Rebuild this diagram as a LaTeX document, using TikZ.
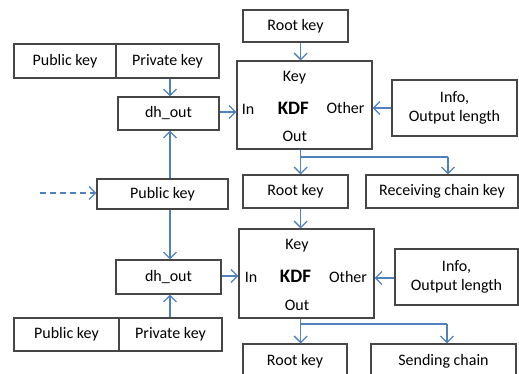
\documentclass[tikz,border=0pt]{standalone}
\usepackage{fontspec}
\setmainfont{Carlito}
\usetikzlibrary{arrows.meta,calc}
\definecolor{arrblue}{RGB}{79,129,189}
\definecolor{boxgray}{RGB}{70,70,70}
\tikzset{
  box/.style={draw=boxgray, line width=1.1pt, inner sep=0pt, anchor=center, font=\fontsize{16}{19}\selectfont, align=center},
  lbl/.style={inner sep=0pt, anchor=center, font=\fontsize{16}{19}\selectfont},
  kdflbl/.style={inner sep=0pt, anchor=center, font=\fontsize{19}{22}\selectfont\bfseries},
  arr/.style={draw=arrblue, line width=1.3pt, -{Straight Barb[length=6.5pt,width=13pt,line width=1.3pt]}},
  ln/.style={draw=arrblue, line width=1.3pt},
}
\begin{document}
\begin{tikzpicture}[x=1pt,y=-1pt]
\useasboundingbox (0,0) rectangle (519,373);
% top section
\node[box, minimum width=105, minimum height=32] (rk1) at (295.5,26) {Root key};
\node[box, minimum width=135, minimum height=88] (kdf1) at (304.5,105) {};
\node[lbl] (key1) at (294.5,78) {Key};
\node[kdflbl] (k1) at (293.3,108) {KDF};
\node[lbl] (in1) at (248,109) {In};
\node[lbl] (oth1) at (345.5,108) {Other};
\node[lbl] (out1) at (294.7,136) {Out};
\node[box, minimum width=125, minimum height=56] (info1) at (454.5,108) {Info,\\Output length};
\node[box, minimum width=102, minimum height=34] (pub1) at (65,61) {Public key};
\node[box, minimum width=103, minimum height=34] (priv1) at (167.5,61) {Private key};
\node[box, minimum width=101, minimum height=33] (dh1) at (168.5,113.5) {dh\_out};
% middle
\node[box, minimum width=131, minimum height=30] (pubm) at (162.5,194) {Public key};
\node[box, minimum width=105, minimum height=33] (rk2) at (295.5,191.5) {Root key};
\node[box, minimum width=152, minimum height=33] (rck) at (442,191.5) {Receiving chain key};
% lower section
\node[box, minimum width=135, minimum height=89] (kdf2) at (306.5,273.5) {};
\node[lbl] (key2) at (297,246) {Key};
\node[kdflbl] (k2) at (295.5,276) {KDF};
\node[lbl] (in2) at (251,277) {In};
\node[lbl] (oth2) at (348,277) {Other};
\node[lbl] (out2) at (297,305) {Out};
\node[box, minimum width=123, minimum height=56] (info2) at (456.5,277) {Info,\\Output length};
\node[box, minimum width=105, minimum height=34] (dh2) at (168.5,277) {dh\_out};
\node[box, minimum width=105, minimum height=33] (pub2) at (66.5,334.5) {Public key};
\node[box, minimum width=103, minimum height=33] (priv2) at (170.5,334.5) {Private key};
\node[box, minimum width=104, minimum height=34] (rk3) at (295,361) {Root key};
\node[box, minimum width=145, minimum height=34] (sc) at (443.5,361) {Sending chain};
% helper coordinates
\coordinate (ax) at (300.7,0);
\coordinate (dx) at (170,0);
\coordinate (b1) at (448,157);
\coordinate (b2) at (447,324);
\coordinate (ds) at (40,193);
% arrows
\draw[arr] (rk1.south -| ax) -- (kdf1.north -| ax);
\draw[arr] (info1.west) -- (info1.west -| kdf1.east);
\draw[arr] (dh1.east |- 0,112) -- (kdf1.west |- 0,112);
\draw[arr] (priv1.south -| dx) -- (dh1.north -| dx);
\draw[arr] (pubm.north -| dx) -- (dh1.south -| dx);
\draw[arr] (kdf1.south -| ax) -- (rk2.north -| ax);
\draw[ln] (ax |- b1) -- (b1);
\draw[arr] (b1) -- (b1 |- rck.north);
\draw[arr, dashed, dash pattern=on 6pt off 4pt] (ds) -- (pubm.west |- ds);
\draw[arr] (rk2.south -| ax) -- (kdf2.north -| ax);
\draw[arr] (info2.west |- 0,278) -- (kdf2.east |- 0,278);
\draw[arr] (dh2.east |- 0,276) -- (kdf2.west |- 0,276);
\draw[arr] (pubm.south -| dx) -- (dh2.north -| dx);
\draw[arr] (priv2.north -| dx) -- (dh2.south -| dx);
\draw[arr] (kdf2.south -| ax) -- (rk3.north -| ax);
\draw[ln] (ax |- b2) -- (b2);
\draw[arr] (b2) -- (b2 |- sc.north);
\end{tikzpicture}
\end{document}
